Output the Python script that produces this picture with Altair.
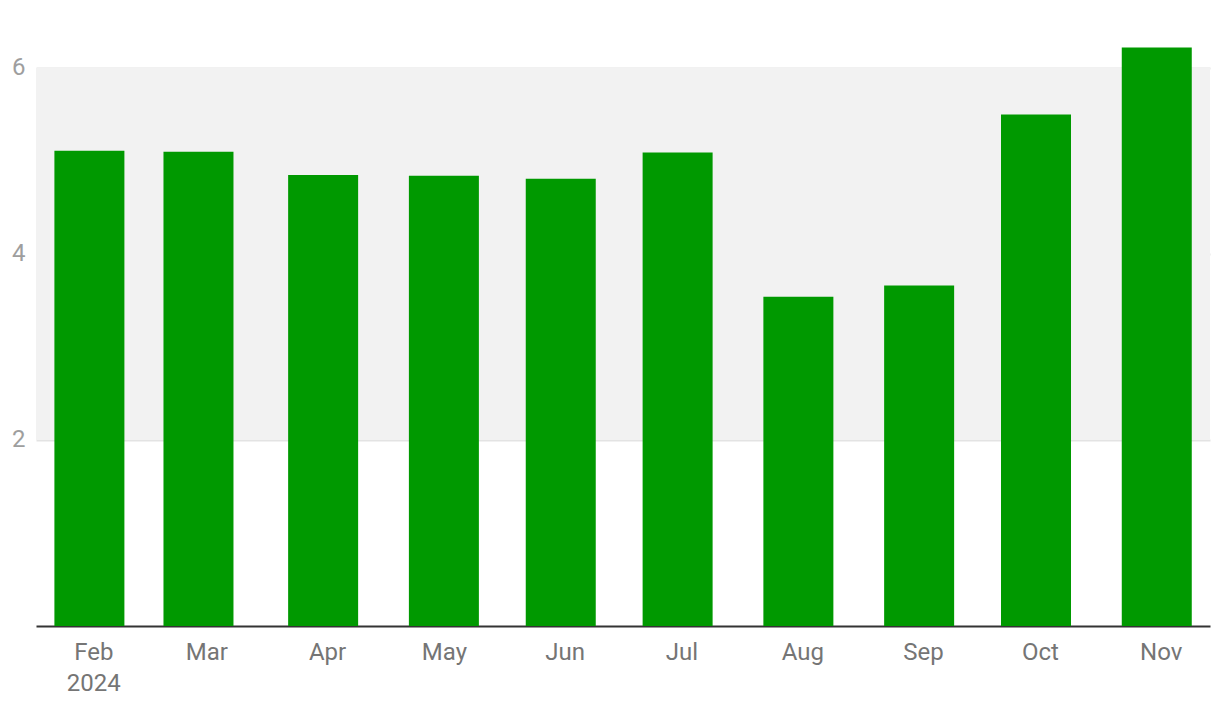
import altair as alt
import pandas as pd

dates = ["2024-01-31", "2024-02-28", "2024-03-31", "2024-05-01", "2024-05-31",
         "2024-06-30", "2024-07-31", "2024-08-31", "2024-09-30", "2024-10-31"]
values = [5.11, 5.10, 4.85, 4.84, 4.81, 5.09, 3.54, 3.66, 5.50, 6.22]
band_low = [2]
band_high = [6]
y_ticks = [2, 4, 6]

df = pd.DataFrame({"date": dates, "value": values})
band_df = pd.DataFrame({"lo": band_low, "hi": band_high})

x_dom = [alt.DateTime(year=2024, month=1, date=17, hours=7, utc=True),
         alt.DateTime(year=2024, month=11, date=13, hours=16, utc=True)]
x_vals = [alt.DateTime(year=2024, month=m, date=1, utc=True) for m in range(2, 12)]

xscale = alt.Scale(type="utc", domain=x_dom, nice=False, padding=0)
yscale = alt.Scale(domain=[0, 6.58], nice=False, zero=True)

band = alt.Chart(band_df).mark_rect(color="#f2f2f2").encode(
    x=alt.value(0), x2=alt.value(1174),
    y=alt.Y("lo:Q", scale=yscale,
            axis=alt.Axis(values=y_ticks, title=None, domain=False, ticks=False,
                          grid=True, gridColor="#e3e3e3", gridWidth=2, format="d",
                          labelColor="#9e9e9e", labelFontSize=24, labelFont="Roboto",
                          labelPadding=11, labelAlign="right")),
    y2="hi:Q",
)

bars = alt.Chart(df).mark_bar(color="#009900", size=70).encode(
    x=alt.X("date:T", scale=xscale,
            axis=alt.Axis(values=x_vals, title=None, grid=False, ticks=False,
                          domain=True, domainColor="#333333", domainWidth=2,
                          labelColor="#757575", labelFontSize=24, labelFont="Roboto",
                          labelPadding=14, labelLineHeight=31,
                          labelExpr="utcmonth(datum.value) == 1 ? [utcFormat(datum.value, '%b'), '2024'] : utcFormat(datum.value, '%b')")),
    y=alt.Y("value:Q", scale=yscale),
)

chart = alt.layer(band, bars).properties(
    width=1174, height=612,
    autosize=alt.AutoSizeParams(type="none"),
    padding={"left": 28, "top": 6, "right": 2, "bottom": 80},
).configure_view(stroke=None)

chart.save("out.html", embed_options={"renderer": "svg", "actions": False})
